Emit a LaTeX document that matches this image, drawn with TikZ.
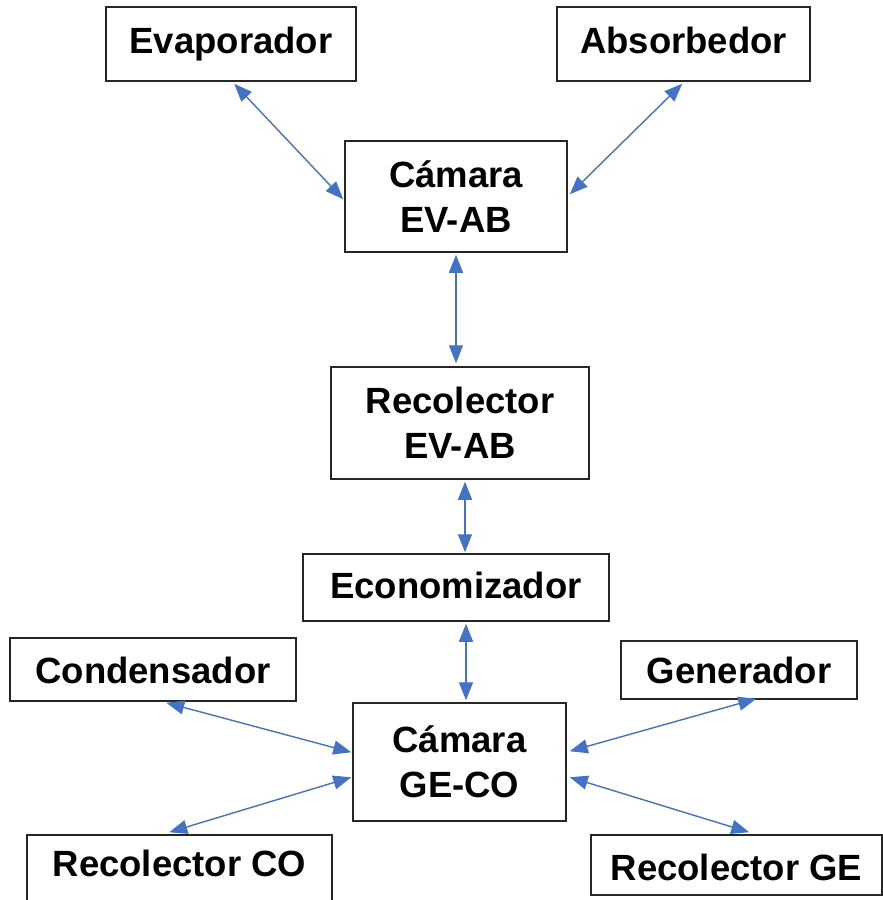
\documentclass[tikz,border=0pt]{standalone}
\usepackage{fontspec}
\setmainfont{Liberation Sans}
\usetikzlibrary{arrows.meta,calc}
\definecolor{arrowblue}{HTML}{4472C4}
\definecolor{boxline}{HTML}{262626}
\begin{document}
\begin{tikzpicture}[x=1pt,y=-1pt,
  box/.style={draw=boxline, line width=1.5pt, rectangle, inner sep=0pt, align=center,
    font=\fontsize{36.5}{45}\selectfont\bfseries},
  oneline/.style={text height=#1, text depth=9pt},
  oneline/.default=27pt,
  link/.style={draw=arrowblue, line width=1.4pt,
    {Triangle[length=18pt,width=14pt]}-{Triangle[length=18pt,width=14pt]}}]
\useasboundingbox (0,0) rectangle (883,900);
\clip (0,0) rectangle (883,900);
\node[box, oneline, minimum width=250pt, minimum height=74pt] (evap) at (231,44) {Evaporador};
\node[box, oneline, minimum width=253pt, minimum height=74pt] (abs) at (683.5,44) {Absorbedor};
\node[box, minimum width=222pt, minimum height=111pt] (cam1) at (456,196.5) {Cámara\\EV-AB};
\node[box, minimum width=258pt, minimum height=112pt] (rec) at (460,423) {Recolector\\EV-AB};
\node[box, oneline=30pt, minimum width=306pt, minimum height=67pt] (econ) at (456,587.5) {Economizador};
\node[box, oneline=36pt, minimum width=286pt, minimum height=63pt] (cond) at (153,669.5) {Condensador};
\node[box, oneline=35pt, minimum width=236pt, minimum height=58pt] (gen) at (739,670) {Generador};
\node[box, minimum width=213pt, minimum height=118pt] (cam2) at (459.5,762) {Cámara\\GE-CO};
\node[box, oneline=24pt, minimum width=305pt, minimum height=67pt] (recco) at (179.5,868.5) {Recolector CO};
\node[box, oneline=39pt, minimum width=291pt, minimum height=60pt] (recge) at (736.5,865) {Recolector GE};

\draw[link] ($(evap.south west)+(129,2)$) -- ($(cam1.north west)+(-1,59)$);
\draw[link] ($(abs.south west)+(126,2)$) -- ($(cam1.north east)+(2,54)$);
\draw[link] ($(cam1.south)+(0,2)$) -- ($(cam1.south |- rec.north)+(0,-3)$);
\draw[link] ($(rec.south)+(5,2)$) -- ($(rec.south |- econ.north)+(5,-1)$);
\draw[link] ($(econ.south)+(10,2)$) -- ($(econ.south |- cam2.north)+(10,-2)$);
\draw[link] ($(cond.south west)+(157,1)$) -- ($(cam2.north west)+(-1,50)$);
\draw[link] ($(cam2.north west)+(-1,75)$) -- ($(recco.north west)+(143,-2)$);
\draw[link] ($(gen.south west)+(136,-1)$) -- ($(cam2.north east)+(3,49)$);
\draw[link] ($(cam2.north east)+(3,75)$) -- ($(recge.north west)+(159,-2)$);
\end{tikzpicture}
\end{document}
